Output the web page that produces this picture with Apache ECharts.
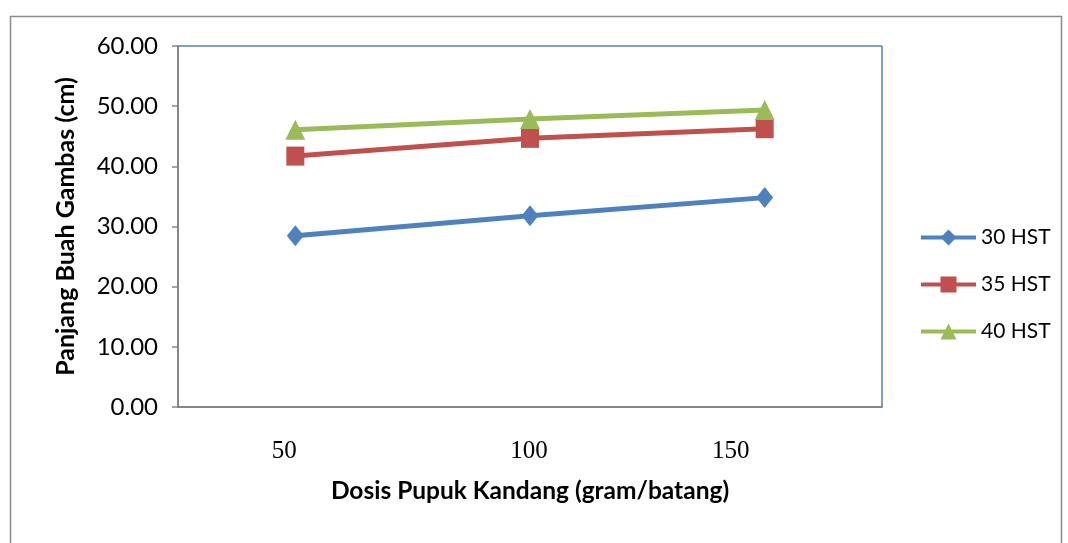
<!DOCTYPE html>
<html>
<head>
<meta charset="utf-8">
<script src="https://cdn.jsdelivr.net/npm/echarts@6/dist/echarts.min.js"></script>
<style>
html,body{margin:0;padding:0;background:#fff;}
#chart{width:1068px;height:543px;}
</style>
</head>
<body>
<div id="chart"></div>
<script>
var categories = ['50', '100', '150'];
var series30 = [28.45, 31.80, 34.80];
var series35 = [41.70, 44.65, 46.25];
var series40 = [46.10, 47.85, 49.35];
var seriesNames = ['30 HST', '35 HST', '40 HST'];
var yTicks = { min: 0, max: 60, interval: 10 };

var chart = echarts.init(document.getElementById('chart'));
var sans = 'Lato';
chart.setOption({
  backgroundColor: '#fff',
  animation: false,
  graphic: [
    { type: 'rect', shape: { x: 10.5, y: 16.5, width: 1051, height: 540 }, style: { fill: 'none', stroke: '#8c8c8c', lineWidth: 1.5 }, silent: true },
    { type: 'line', shape: { x1: 178, y1: 46, x2: 882, y2: 46 }, style: { stroke: '#4F81BD', lineWidth: 1.5 }, silent: true },
    { type: 'line', shape: { x1: 882, y1: 46, x2: 882, y2: 407 }, style: { stroke: '#4F81BD', lineWidth: 1.5 }, silent: true }
  ],
  grid: { left: 178, right: 186, top: 46, bottom: 136, containLabel: false },
  legend: {
    orient: 'vertical',
    left: 914, top: 222,
    itemGap: 26,
    itemWidth: 55, itemHeight: 20,
    lineStyle: { width: 4 },
    textStyle: { fontFamily: sans, fontSize: 21, color: '#000' },
    data: seriesNames
  },
  xAxis: {
    type: 'category',
    data: categories,
    boundaryGap: true,
    name: 'Dosis Pupuk Kandang (gram/batang)',
    nameLocation: 'middle',
    nameGap: 72,
    nameTextStyle: { fontFamily: sans, fontSize: 24.5, fontWeight: 'bold', color: '#000' },
    axisLine: { lineStyle: { color: '#868686', width: 2 } },
    axisTick: { show: false },
    axisLabel: {
      fontFamily: 'Liberation Serif', fontSize: 25, color: '#000', margin: 32,
      formatter: function (v, i) { return '{c' + i + '|' + v + '}'; },
      rich: {
        c0: { fontFamily: 'Liberation Serif', fontSize: 25, color: '#000', padding: [0, 22, 0, 0] },
        c1: { fontFamily: 'Liberation Serif', fontSize: 25, color: '#000', padding: [0, 2, 0, 0] },
        c2: { fontFamily: 'Liberation Serif', fontSize: 25, color: '#000', padding: [0, 68, 0, 0] }
      }
    },
    splitLine: { show: false }
  },
  yAxis: {
    type: 'value',
    min: yTicks.min, max: yTicks.max, interval: yTicks.interval,
    name: 'Panjang Buah Gambas (cm)',
    nameLocation: 'middle',
    nameGap: 100,
    nameTextStyle: { fontFamily: sans, fontSize: 25, fontWeight: 'bold', color: '#000' },
    axisLine: { show: true, lineStyle: { color: '#868686', width: 2 } },
    axisTick: { show: true, length: 6, lineStyle: { color: '#868686', width: 1.5 } },
    axisLabel: { fontFamily: sans, fontSize: 24, color: '#000', margin: 20, formatter: function (v) { return v.toFixed(2); } },
    splitLine: { show: false }
  },
  series: [
    { name: seriesNames[0], type: 'line', data: series30, color: '#4F81BD', symbol: 'diamond', symbolSize: [17, 21], lineStyle: { width: 5 }, itemStyle: { color: '#4F81BD' } },
    { name: seriesNames[1], type: 'line', data: series35, color: '#C0504D', symbol: 'rect', symbolSize: [18, 19], lineStyle: { width: 5 }, itemStyle: { color: '#C0504D' } },
    { name: seriesNames[2], type: 'line', data: series40, color: '#9BBB59', symbol: 'triangle', symbolSize: [20, 20], lineStyle: { width: 5 }, itemStyle: { color: '#9BBB59' } }
  ]
});
</script>
</body>
</html>
